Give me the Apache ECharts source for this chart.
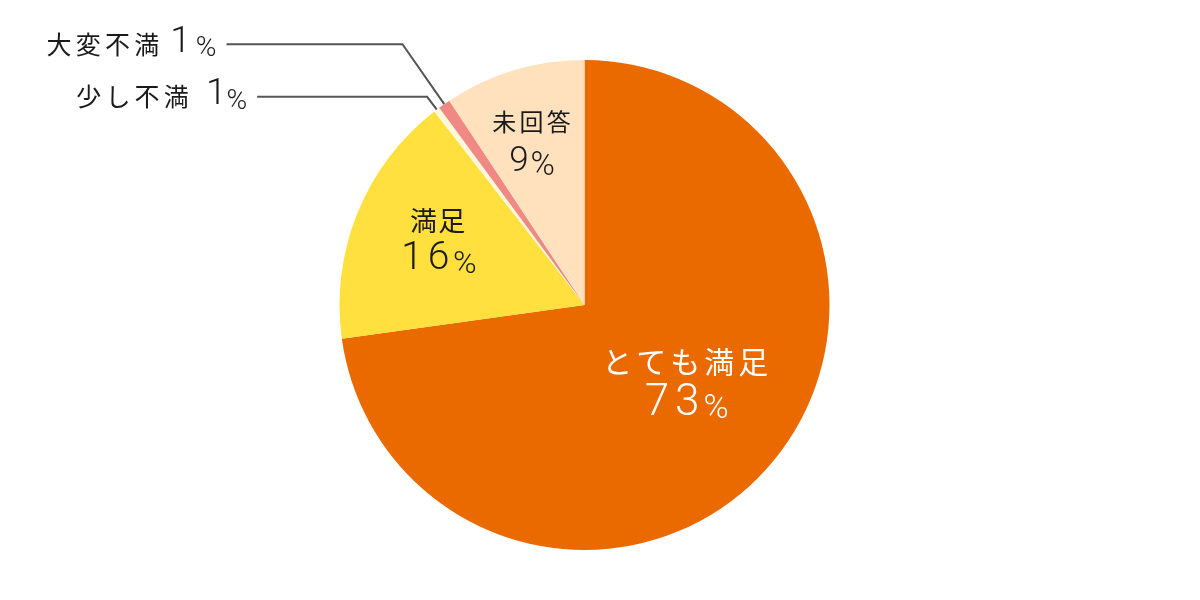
<!DOCTYPE html>
<html><head><meta charset="utf-8">
<script src="https://cdn.jsdelivr.net/npm/echarts@6/dist/echarts.min.js"></script>
<style>html,body{margin:0;padding:0;background:#fff}#c{width:1200px;height:600px}</style>
</head><body><div id="c"></div>
<script>
// Data
const categories = ['とても満足', '満足', '少し不満', '大変不満', '未回答'];
const shares = [72.8, 16.7, 0.4, 0.8, 9.3];
const percentLabels = ['73', '16', '1', '1', '9'];
const colors = ['#EB6A00', '#FFE03F', '#FFF7DA', '#F08884', '#FFE2BD'];

const JP = '"Noto Sans CJK JP", sans-serif';
const NUM = 'Roboto, "Noto Sans", sans-serif';
const R = 245;

// label styling per slice (not data)
const labelStyles = [
  { inside: true, color: '#ffffff', nameSize: 30, charPad: 2, numSize: 44, numPad: 3, pctSize: 34, pctGap: 1, nameLH: 40, numLH: 46, offset: [6, -7] },
  { inside: true, color: '#1a1a1a', nameSize: 27, charPad: 0.6, numSize: 39, numPad: 2.5, pctSize: 32, pctGap: 1, nameLH: 35, numLH: 42, offset: [-30.6, -19.5] },
  { inside: false, line: [16, 170], numGap: 15, pctGap: 0 },
  { inside: false, line: [73, 176], numGap: 9, pctGap: 5 },
  { inside: true, color: '#1a1a1a', nameSize: 24, charPad: 1.6, numSize: 35, numPad: 1, pctSize: 33, pctGap: 1, nameLH: 36, numLH: 43, offset: [-16.8, -45] }
];

function spaced(text, key) {
  return text.split('').map(ch => '{' + key + '|' + ch + '}').join('');
}

const data = categories.map((name, i) => {
  const s = labelStyles[i];
  const item = { name, value: shares[i], itemStyle: { color: colors[i] } };
  if (s.inside) {
    const vTop = 8;
    const pTop = Math.round(s.pctSize * 0.3) + 8;
    item.label = {
      show: true,
      position: 'inside',
      offset: s.offset,
      formatter: spaced(name, 'n') + '\n' + spaced(percentLabels[i], 'v') + '{p|%}',
      rich: {
        n: { fontFamily: JP, fontSize: s.nameSize, color: s.color, lineHeight: s.nameLH, padding: [0, s.charPad, 0, s.charPad] },
        v: { fontFamily: NUM, fontWeight: 300, fontSize: s.numSize, color: s.color, lineHeight: s.numLH - vTop, padding: [vTop, s.numPad, 0, s.numPad] },
        p: { fontFamily: NUM, fontWeight: 300, fontSize: s.pctSize, color: s.color, lineHeight: s.numLH - pTop, padding: [pTop, 0, 0, s.pctGap] }
      }
    };
  } else {
    item.label = {
      show: true,
      position: 'outside',
      distanceToLabelLine: 10,
      formatter: spaced(name, 'n') + '{v|' + percentLabels[i] + '}{p|%}',
      rich: {
        n: { fontFamily: JP, fontSize: 25, color: '#1a1a1a', lineHeight: 36, padding: [0, 2.1, 0, 2.1] },
        v: { fontFamily: NUM, fontWeight: 300, fontSize: 37, color: '#1a1a1a', lineHeight: 36, padding: [0, 0, 4, s.numGap] },
        p: { fontFamily: NUM, fontWeight: 300, fontSize: 28, color: '#1a1a1a', lineHeight: 30, padding: [10, 0, 0, s.pctGap] }
      }
    };
    item.labelLine = {
      show: true,
      length: s.line[0],
      length2: s.line[1],
      lineStyle: { color: '#555555', width: 2 }
    };
  }
  return item;
});

const chart = echarts.init(document.getElementById('c'), null, { renderer: 'canvas' });
chart.setOption({
  animation: false,
  series: [{
    type: 'pie',
    center: [584.5, 305],
    radius: [0, R],
    startAngle: 90,
    clockwise: true,
    avoidLabelOverlap: false,
    minShowLabelAngle: 0,
    itemStyle: { borderWidth: 0 },
    emphasis: { disabled: true },
    data
  }]
});
</script>
</body></html>
